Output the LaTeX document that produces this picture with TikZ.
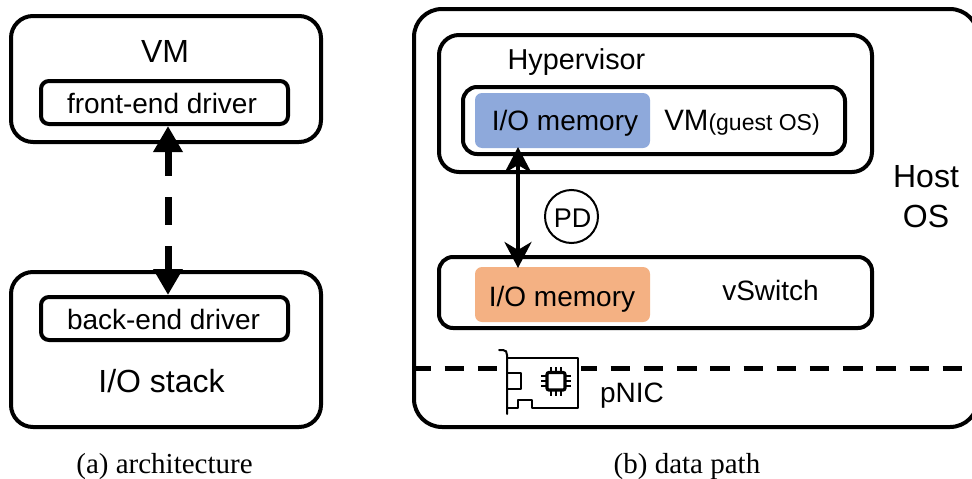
\documentclass[tikz,border=0pt]{standalone}
\usepackage{fontspec}
\setmainfont{Liberation Sans}
\newfontfamily\capfont{Liberation Serif}
\usetikzlibrary{arrows.meta}
\definecolor{memblue}{HTML}{8EA9DB}
\definecolor{memorange}{HTML}{F4B183}
\tikzset{
  box/.style={draw=black,line width=4pt,rounded corners=#1,inner sep=0pt,outer sep=0pt,anchor=north west,fill=white},
  box/.default=22pt,
  lbl/.style={font=\fontsize{28}{30}\selectfont,inner sep=0pt,anchor=base},
  biglbl/.style={font=\fontsize{32}{34}\selectfont,inner sep=0pt,anchor=base},
  caplbl/.style={font=\capfont\fontsize{29}{31}\selectfont,inner sep=0pt,anchor=base},
  mem/.style={inner sep=0pt,outer sep=0pt,anchor=north west},
  nic/.style={line width=2pt,line cap=round,line join=round},
  pin/.style={line width=1.8pt}
}
\begin{document}
\begin{tikzpicture}[x=1pt,y=-1pt]
\useasboundingbox (0,0) rectangle (972,479);
\begin{scope}
\clip (0,0) rectangle (972,479);
% (a)
\node[box,minimum width=310pt,minimum height=126pt] (vm) at (11,16) {};
\node[box,minimum width=310pt,minimum height=155pt] (stack) at (11,272) {};
\node[box=8pt,minimum width=247pt,minimum height=43pt] (fe) at (41,81) {};
\node[box=8pt,minimum width=247pt,minimum height=43pt] (be) at (41,297) {};
\node[biglbl] (vmt) at (165,62) {VM};
\node[lbl] (fet) at (162,113) {front-end driver};
\node[lbl] (bet) at (163.5,329) {back-end driver};
\node[biglbl] (iot) at (161.5,392) {I/O stack};
\draw[line width=7pt,dash pattern=on 26pt off 21pt on 28pt off 21pt on 28pt off 100pt,{Triangle[length=26pt,width=28pt]}-{Triangle[length=26pt,width=28pt]},shorten <=2pt,shorten >=2pt]
  (fe.south -| 168,0) -- (be.north -| 168,0);
\node[caplbl] (capa) at (164.5,473) {(a) architecture};
% (b)
\node[box=28pt,minimum width=564pt,minimum height=418pt] (host) at (414,9) {};
\node[box=20pt,minimum width=433pt,minimum height=137pt] (hyp) at (439,35) {};
\node[box=14pt,minimum width=382pt,minimum height=67pt] (guest) at (463,87) {};
\node[box=14pt,minimum width=433pt,minimum height=71pt] (vsw) at (439,257) {};
\fill[memblue,rounded corners=7pt] (475,93) rectangle (650,148);
\node[mem,minimum width=175pt,minimum height=55pt] (iob) at (475,93) {};
\fill[memorange,rounded corners=7pt] (475,267) rectangle (650,322);
\node[mem,minimum width=175pt,minimum height=55pt] (ioo) at (475,267) {};
\node[lbl,font=\fontsize{28.8}{30}\selectfont] (hypt) at (576.5,69) {Hypervisor};
\node[lbl] (iobt) at (565,130) {I/O memory};
\node[lbl] (guestt) at (742,130) {\fontsize{29.5}{30}\selectfont VM\fontsize{23}{24}\selectfont(guest OS)};
\node[lbl] (ioot) at (562,306) {I/O memory};
\node[lbl] (vswt) at (770.5,300) {vSwitch};
\node[biglbl] (host1) at (926,187) {Host};
\node[biglbl] (host2) at (926,227) {OS};
\node[lbl] (nict) at (632,402) {pNIC};
\node[draw=black,line width=2pt,circle,minimum size=53pt,inner sep=0pt,outer sep=0pt,fill=white] (pd) at (571.5,216.5) {};
\node[lbl,font=\fontsize{27}{29}\selectfont] (pdt) at (572.5,227) {PD};
\draw[line width=4pt,{Stealth[length=26pt,width=27pt,inset=8pt]}-{Stealth[length=26pt,width=27pt,inset=8pt]},shorten <=-1pt,shorten >=-1pt]
  (iob.south -| 518,0) -- (ioo.north -| 518,0);
\node[caplbl] (capb) at (687,473) {(b) data path};
% dashed line
\coordinate (dl) at (414,368);
\coordinate (dr) at (972,368);
\draw[line width=5pt,dash pattern=on 19.4pt off 13.8pt,dash phase=2.5pt] (dl) -- (dr);
% pNIC icon
\fill[white] (497.5,351) rectangle (581,409);
\draw[nic] (499,350) -- (503,350) .. controls (506,350) and (507,352) .. (507,355) -- (507,414);
\draw[nic] (507,358) -- (578,358) -- (578,408) -- (532,408) -- (532,400) -- (518,400) -- (518,408) -- (507,408);
\draw[nic] (507,373) -- (520.5,373) -- (520.5,389) -- (507,389);
\draw[line width=3.2pt,rounded corners=2pt] (547,372.5) rectangle (565,390);
\foreach \p in {551,556,561}{
  \draw[pin] (\p,367) -- (\p,372);
  \draw[pin] (\p,391) -- (\p,396);
}
\foreach \p in {376,381,386}{
  \draw[pin] (541,\p) -- (546,\p);
  \draw[pin] (566,\p) -- (571,\p);
}
\end{scope}
\end{tikzpicture}
\end{document}
